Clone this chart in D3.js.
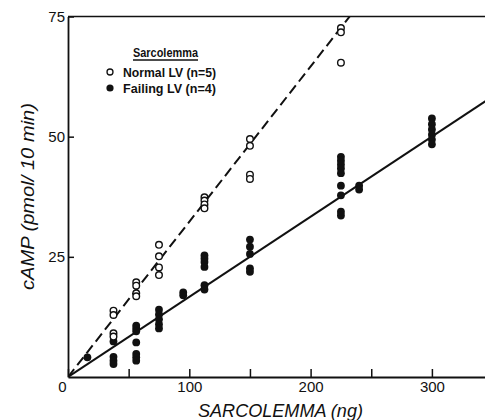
<!DOCTYPE html>
<html>
<head>
<meta charset="utf-8">
<script src="https://cdn.jsdelivr.net/npm/d3@7"></script>
<style>
  body { margin: 0; background: #fff; }
  svg { display: block; font-family: "Liberation Sans", Arial, sans-serif; }
</style>
</head>
<body>
<div id="chart"></div>
<script>
// sarcolemma amount (ng) per group of points
const doses = [16, 37.5, 56.25, 75, 95, 112.5, 150, 225, 240, 300]

// cAMP values, one list per dose
const normalLV = [
  [],
  [13.8, 12.9, 9.1, 8.4],
  [19.7, 19.0, 17.4, 16.8],
  [27.5, 25.1, 22.8, 21.2],
  [],
  [37.4, 36.7, 35.9, 35.1],
  [49.5, 48.1, 42.1, 41.2],
  [72.6, 71.7, 65.4],
  [],
  []
]
const failingLV = [
  [4.1],
  [7.4, 4.2, 3.4, 2.7],
  [10.7, 10.1, 9.5, 7.2, 4.8, 4.1, 3.4],
  [14.0, 13.0, 12.0, 11.0, 10.1],
  [17.6, 17.0],
  [25.3, 24.6, 23.9, 22.9, 19.1, 18.2],
  [28.6, 27.1, 25.6, 22.6, 21.9],
  [45.8, 45.0, 44.2, 43.4, 42.4, 39.8, 37.8, 34.4, 33.6],
  [39.8, 39.0],
  [53.8, 52.6, 51.5, 50.4, 49.4, 48.4]
]

// fitted lines through the origin
const normalSlope = 0.323
const failingSlope = 0.1667

const xTicks = [0, 50, 100, 150, 200, 250, 300]
const yTicks = [25, 50, 75]

const W = 485, H = 420
const margin = {top: 16.5, left: 68, bottom: 43}

const svg = d3.select("#chart").append("svg")
    .attr("width", W)
    .attr("height", H)

const x = d3.scaleLinear().domain([0, 350]).range([margin.left, margin.left + 350 * 1.213])
const y = d3.scaleLinear().domain([0, 75]).range([H - margin.bottom, margin.top])

const flat = (groups) => groups.flatMap((vals, i) => vals.map(v => ({x: doses[i], y: v})))

// clip for the regression lines
svg.append("clipPath").attr("id", "plot")
  .append("rect")
    .attr("x", x(0)).attr("y", y(75))
    .attr("width", W - x(0)).attr("height", y(0) - y(75))

// fitted lines
const g = svg.append("g").attr("clip-path", "url(#plot)")
g.append("line")
    .attr("x1", x(0)).attr("y1", y(0))
    .attr("x2", x(350)).attr("y2", y(350 * normalSlope))
    .attr("stroke", "#111").attr("stroke-width", 2)
    .attr("stroke-dasharray", "10,5")
g.append("line")
    .attr("x1", x(0)).attr("y1", y(0))
    .attr("x2", x(350)).attr("y2", y(350 * failingSlope))
    .attr("stroke", "#111").attr("stroke-width", 2)

// points
svg.append("g").selectAll("circle")
  .data(flat(failingLV))
  .enter().append("circle")
    .attr("cx", d => x(d.x))
    .attr("cy", d => y(d.y))
    .attr("r", 3.9)
    .attr("fill", "#111")

svg.append("g").selectAll("circle")
  .data(flat(normalLV))
  .enter().append("circle")
    .attr("cx", d => x(d.x))
    .attr("cy", d => y(d.y))
    .attr("r", 3.3)
    .attr("fill", "#fff")
    .attr("stroke", "#111")
    .attr("stroke-width", 1.4)

// axes
const xAxis = svg.append("g")
    .attr("transform", `translate(0,${y(0)})`)
    .call(d3.axisBottom(x).tickValues(xTicks).tickSizeInner(-8).tickSizeOuter(0).tickPadding(4)
      .tickFormat(d => d % 100 === 0 ? d : ""))
xAxis.selectAll("text").attr("font-size", 15).attr("fill", "#111")
  .filter(d => d === 0).attr("dx", -6)

const yAxis = svg.append("g")
    .attr("transform", `translate(${x(0)},0)`)
    .call(d3.axisLeft(y).tickValues(yTicks).tickSizeInner(-6).tickSizeOuter(0).tickPadding(3))
yAxis.selectAll("text").attr("font-size", 15).attr("fill", "#111")

svg.selectAll(".domain").attr("stroke", "#111").attr("stroke-width", 1.8)
svg.selectAll(".tick line").attr("stroke", "#111").attr("stroke-width", 1.5)

// top frame
svg.append("line")
    .attr("x1", x(0)).attr("x2", W)
    .attr("y1", y(75)).attr("y2", y(75))
    .attr("stroke", "#111").attr("stroke-width", 1.5)

// axis titles
svg.append("text")
    .attr("x", 198).attr("y", 417)
    .attr("font-size", 18).attr("font-style", "italic").attr("fill", "#111")
    .attr("textLength", 165).attr("lengthAdjust", "spacingAndGlyphs")
    .text("SARCOLEMMA (ng)")

svg.append("text")
    .attr("transform", "translate(34,290) rotate(-90)")
    .attr("font-size", 18).attr("font-style", "italic").attr("fill", "#111")
    .attr("textLength", 187).attr("lengthAdjust", "spacingAndGlyphs")
    .text("cAMP (pmol/ 10 min)")

// legend
const legend = svg.append("g").attr("fill", "#111").attr("font-weight", "bold")
legend.append("text")
    .attr("x", 133).attr("y", 57)
    .attr("font-size", 13.5)
    .attr("textLength", 65).attr("lengthAdjust", "spacingAndGlyphs")
    .text("Sarcolemma")
legend.append("line")
    .attr("x1", 133).attr("x2", 198).attr("y1", 60).attr("y2", 60)
    .attr("stroke", "#111").attr("stroke-width", 1.3)
legend.append("circle")
    .attr("cx", 110).attr("cy", 72).attr("r", 3)
    .attr("fill", "#fff").attr("stroke", "#111").attr("stroke-width", 1.3)
legend.append("text")
    .attr("x", 123).attr("y", 77)
    .attr("font-size", 13)
    .attr("textLength", 93).attr("lengthAdjust", "spacingAndGlyphs")
    .text("Normal LV (n=5)")
legend.append("circle")
    .attr("cx", 110).attr("cy", 88).attr("r", 3.6)
legend.append("text")
    .attr("x", 123).attr("y", 93)
    .attr("font-size", 13)
    .attr("textLength", 93).attr("lengthAdjust", "spacingAndGlyphs")
    .text("Failing LV (n=4)")
</script>
</body>
</html>
